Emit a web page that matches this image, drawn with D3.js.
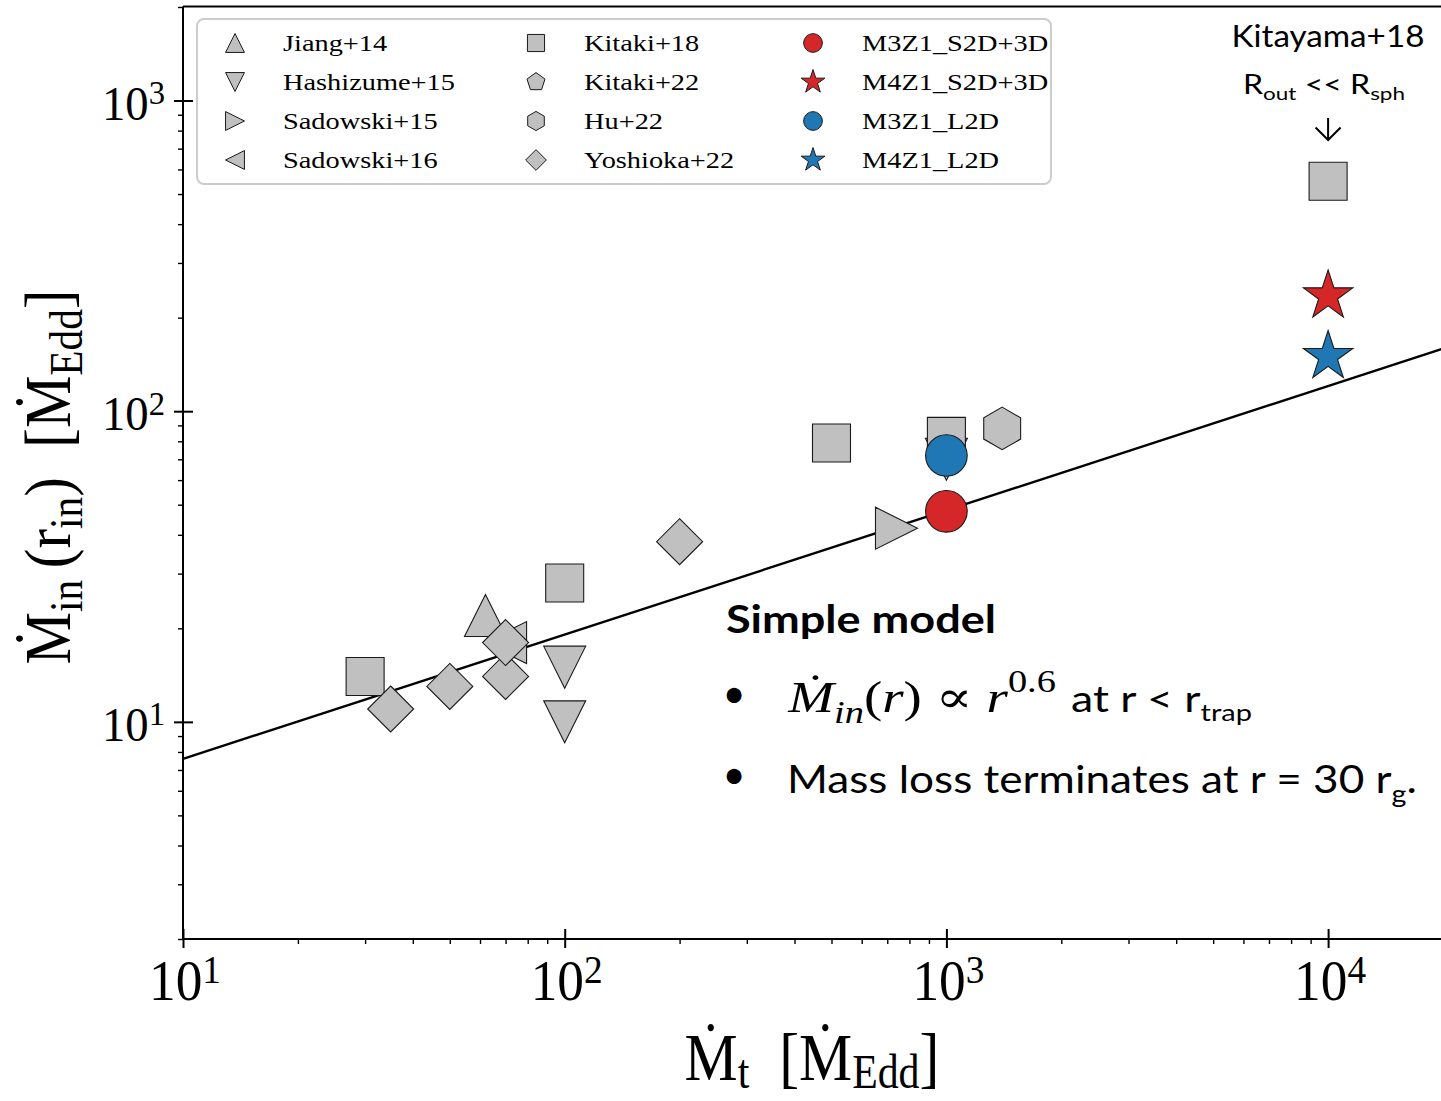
<!DOCTYPE html>
<html><head><meta charset="utf-8">
<script src="https://cdn.jsdelivr.net/npm/d3@7"></script>
<style>html,body{margin:0;padding:0;background:#fff;} svg{display:block;}</style>
</head><body>
<svg id="chart" width="1441" height="1101"></svg>
<script>
// ---------------- data ----------------
const jiangX = [62],              jiangY = [22];
const hashizumeX = [100, 100, 1000], hashizumeY = [15, 10, 70];
const sadowski15X = [740],         sadowski15Y = [42];
const sadowski16X = [70],          sadowski16Y = [18];
const kitaki18X = [30, 100, 500, 1000, 10000], kitaki18Y = [14, 28, 79, 83, 550];
const kitaki22X = [],              kitaki22Y = [];
const hu22X = [1400],              hu22Y = [88];
const yoshiokaX = [35, 50, 70, 70, 200], yoshiokaY = [11, 13, 14, 18, 38];
const m3s2dX = [1000],  m3s2dY = [47.6];
const m4s2dX = [10000], m4s2dY = [235];
const m3l2dX = [1000],  m3l2dY = [72];
const m4l2dX = [10000], m4l2dY = [150];
const modelLineX = [10, 20000], modelLineY = [7.6, 159];

const xDomain = [10, 20000], yDomain = [2, 2000];
const xMajorTicks = [10, 100, 1000, 10000], xTickExps = ["1", "2", "3", "4"];
const yMajorTicks = [10, 100, 1000],        yTickExps = ["1", "2", "3"];
const xMinorTicks = [20,30,40,50,60,70,80,90,200,300,400,500,600,700,800,900,2000,3000,4000,5000,6000,7000,8000,9000];
const yMinorTicks = [2,3,4,5,6,7,8,9,20,30,40,50,60,70,80,90,200,300,400,500,600,700,800,900,2000];

const legendNames = ["Jiang+14","Hashizume+15","Sadowski+15","Sadowski+16",
                     "Kitaki+18","Kitaki+22","Hu+22","Yoshioka+22",
                     "M3Z1_S2D+3D","M4Z1_S2D+3D","M3Z1_L2D","M4Z1_L2D"];

// ---------------- styles ----------------
const GRAY = "#c0c0c0", RED = "#d62728", BLUE = "#1f77b4";
const SERIF = "'Liberation Serif', 'DejaVu Serif', serif";
const SANS = "Lato, 'Open Sans', sans-serif";

const svg = d3.select("#chart");
const x = d3.scaleLog().domain(xDomain).range([183, 1443]);
const y = d3.scaleLog().domain(yDomain).range([939, 7]);

// ---------------- marker shapes ----------------
const shapes = {
  triUp: r => `M0,${-r}L${r},${r}L${-r},${r}Z`,
  triDown: r => `M0,${r}L${r},${-r}L${-r},${-r}Z`,
  triRight: r => `M${r},0L${-r},${-r}L${-r},${r}Z`,
  triLeft: r => `M${-r},0L${r},${-r}L${r},${r}Z`,
  square: r => `M${-r},${-r}H${r}V${r}H${-r}Z`,
  diamond: r => `M0,${-r}L${r},0L0,${r}L${-r},0Z`,
  pentagon: r => poly(5, r),
  hexagon: r => poly(6, r),
  circle: r => `M${r},0A${r},${r} 0 1,1 ${-r},0A${r},${r} 0 1,1 ${r},0Z`,
  star: r => {
    const pts = [];
    for (let i = 0; i < 10; i++) {
      const rr = i % 2 ? r * 0.381966 : r;
      const a = -Math.PI / 2 + i * Math.PI / 5;
      pts.push([rr * Math.cos(a), rr * Math.sin(a)]);
    }
    return "M" + pts.map(p => p.join(",")).join("L") + "Z";
  }
};
function poly(n, r) {
  const pts = [];
  for (let i = 0; i < n; i++) {
    const a = -Math.PI / 2 + i * 2 * Math.PI / n;
    pts.push([r * Math.cos(a), r * Math.sin(a)]);
  }
  return "M" + pts.map(p => p.join(",")).join("L") + "Z";
}

// series definitions: shape, plot size, fill
const series = [
  {xs: jiangX, ys: jiangY, shape: "triUp", r: 21, fill: GRAY},
  {xs: hashizumeX, ys: hashizumeY, shape: "triDown", r: 21, fill: GRAY},
  {xs: sadowski15X, ys: sadowski15Y, shape: "triRight", r: 21, fill: GRAY},
  {xs: sadowski16X, ys: sadowski16Y, shape: "triLeft", r: 21, fill: GRAY},
  {xs: kitaki18X, ys: kitaki18Y, shape: "square", r: 19, fill: GRAY},
  {xs: kitaki22X, ys: kitaki22Y, shape: "pentagon", r: 21, fill: GRAY},
  {xs: hu22X, ys: hu22Y, shape: "hexagon", r: 21.3, fill: GRAY},
  {xs: yoshiokaX, ys: yoshiokaY, shape: "diamond", r: 23, fill: GRAY},
  {xs: m3s2dX, ys: m3s2dY, shape: "circle", r: 20.8, fill: RED},
  {xs: m4s2dX, ys: m4s2dY, shape: "star", r: 26, fill: RED},
  {xs: m3l2dX, ys: m3l2dY, shape: "circle", r: 20.8, fill: BLUE},
  {xs: m4l2dX, ys: m4l2dY, shape: "star", r: 26, fill: BLUE}
];

// ---------------- rich text helper ----------------
function richText(parent, segs, o) {
  const g = parent.append("g");
  const inner = g.append("g");
  const t = inner.append("text")
    .attr("font-family", o.family).attr("font-size", o.size)
    .attr("font-weight", o.weight || "normal")
    .attr("font-style", o.style || "normal")
    .attr("fill", "#000").attr("style", "white-space:pre");
  let cur = 0;
  segs.forEach(s => {
    const sh = (s.shift || 0) * o.size;
    const ts = t.append("tspan").text(s.t)
      .attr("font-size", (s.scale || 1) * o.size)
      .attr("dy", sh - cur);
    if (s.style) ts.attr("font-style", s.style);
    if (s.family) ts.attr("font-family", s.family);
    cur = sh;
  });
  const bb = t.node().getBBox();
  const sx = o.sx ? o.sx : (o.targetW ? o.targetW / bb.width : 1);
  let x0 = -bb.x;
  if (o.anchor === "middle") x0 -= bb.width / 2;
  if (o.anchor === "end") x0 -= bb.width;
  t.attr("x", x0);
  inner.attr("transform", `scale(${sx},1)`);
  g.attr("transform", `translate(${o.x},${o.y})` + (o.rotate ? ` rotate(${o.rotate})` : ""));
  return {sx, w: bb.width, g};
}

// ---------------- axes ----------------
const x0px = x.range()[0], xEnd = 1441, yBot = y.range()[0], yTop = 6.5;

const gxMinor = svg.append("g").attr("transform", `translate(0,${yBot})`)
  .call(d3.axisBottom(x).tickValues(xMinorTicks).tickSize(5).tickFormat(""));
const gxMajor = svg.append("g").attr("transform", `translate(0,${yBot})`)
  .call(d3.axisBottom(x).tickValues(xMajorTicks).tickSize(9).tickFormat(""));
const gyMinor = svg.append("g").attr("transform", `translate(${x0px},0)`)
  .call(d3.axisLeft(y).tickValues(yMinorTicks).tickSize(5).tickFormat(""));
const gyMajor = svg.append("g").attr("transform", `translate(${x0px},0)`)
  .call(d3.axisLeft(y).tickValues(yMajorTicks).tickSize(9).tickFormat(""));
[gxMinor, gxMajor, gyMinor, gyMajor].forEach(g => g.select(".domain").remove());
gxMinor.selectAll(".tick line").attr("stroke", "#000").attr("stroke-width", 1.4);
gyMinor.selectAll(".tick line").attr("stroke", "#000").attr("stroke-width", 1.4);
gxMajor.selectAll(".tick line").attr("stroke", "#000").attr("stroke-width", 2).attr("y1", -10).attr("y2", 9);
gyMajor.selectAll(".tick line").attr("stroke", "#000").attr("stroke-width", 2).attr("x1", 10).attr("x2", -9);

// spines
svg.append("line").attr("x1", x0px).attr("x2", x0px).attr("y1", yTop).attr("y2", yBot)
  .attr("stroke", "#000").attr("stroke-width", 2);
svg.append("line").attr("x1", x0px).attr("x2", xEnd).attr("y1", yBot).attr("y2", yBot)
  .attr("stroke", "#000").attr("stroke-width", 2);
svg.append("line").attr("x1", x0px).attr("x2", xEnd).attr("y1", yTop).attr("y2", yTop)
  .attr("stroke", "#000").attr("stroke-width", 2);

// tick labels
xMajorTicks.forEach((v, i) => {
  richText(svg, [{t: "10"}, {t: xTickExps[i], scale: 0.7, shift: -0.3}],
    {family: SERIF, size: 58, x: x(v) + 2, y: 1000, anchor: "middle", targetW: 72});
});
yMajorTicks.forEach((v, i) => {
  richText(svg, [{t: "10"}, {t: yTickExps[i], scale: 0.7, shift: -0.32}],
    {family: SERIF, size: 49, x: 165, y: y(v) + 19, anchor: "end", targetW: 63});
});

// axis labels
richText(svg, [{t: "Ṁ"}, {t: "t", scale: 0.7, shift: 0.12}, {t: "  [Ṁ"}, {t: "Edd", scale: 0.7, shift: 0.12}, {t: "]"}],
  {family: SERIF, size: 68, x: 812, y: 1080, anchor: "middle", targetW: 255});
richText(svg, [{t: "Ṁ"}, {t: "in", scale: 0.7, shift: 0.18}, {t: "\u2009(r"}, {t: "in", scale: 0.7, shift: 0.18}, {t: ")  [Ṁ"}, {t: "Edd", scale: 0.7, shift: 0.18}, {t: "]"}],
  {family: SERIF, size: 66, x: 70, y: 477, anchor: "middle", targetW: 375, rotate: -90});

// ---------------- model line ----------------
const line = d3.line().x((d, i) => x(d)).y((d, i) => y(modelLineY[i]));
svg.append("path").attr("d", line(modelLineX)).attr("fill", "none")
  .attr("stroke", "#000").attr("stroke-width", 2.4);

// ---------------- markers ----------------
const gm = svg.append("g");
series.forEach(s => {
  gm.selectAll(null).data(s.xs.map((v, i) => [v, s.ys[i]])).join("path")
    .attr("transform", d => `translate(${x(d[0])},${y(d[1])})`)
    .attr("d", shapes[s.shape](s.r))
    .attr("fill", s.fill).attr("stroke", "#1a1a1a").attr("stroke-width", 1.1)
    .attr("stroke-linejoin", "miter");
});

// ---------------- legend ----------------
const lg = svg.append("g");
lg.append("rect").attr("x", 197).attr("y", 19).attr("width", 854).attr("height", 165)
  .attr("rx", 7).attr("fill", "#fff").attr("fill-opacity", 0.85)
  .attr("stroke", "#cccccc").attr("stroke-width", 2);
const legMarkX = [235, 536, 813], legTextX = [283, 584, 862], legRowY = [43, 82, 121, 160];
const legScale = 0.45;
// measure one entry to get a common horizontal scale, then discard the probe
const probe = richText(lg, [{t: legendNames[1]}], {family: SERIF, size: 23, x: 300, y: 100, targetW: 172});
probe.g.remove();
series.forEach((s, i) => {
  const col = Math.floor(i / 4), row = i % 4;
  const r = s.shape === "star" ? s.r * 0.48 : s.r * legScale;
  lg.append("path").attr("transform", `translate(${legMarkX[col]},${legRowY[row]})`)
    .attr("d", shapes[s.shape](r)).attr("fill", s.fill)
    .attr("stroke", "#1a1a1a").attr("stroke-width", 1);
  richText(lg, [{t: legendNames[i]}], {family: SERIF, size: 23, x: legTextX[col], y: legRowY[row] + 8, sx: probe.sx});
});

// ---------------- annotations ----------------
richText(svg, [{t: "Kitayama+18"}], {family: SANS, size: 30, x: 1328, y: 47, anchor: "middle", targetW: 193});
richText(svg, [{t: "R"}, {t: "out", scale: 0.7, shift: 0.25}, {t: " << R"}, {t: "sph", scale: 0.7, shift: 0.25}],
  {family: SANS, size: 26, x: 1324, y: 93.5, anchor: "middle", targetW: 162});
svg.append("path").attr("d", `M${x(10000)},118V140M${x(10000) - 12.5},127.5L${x(10000)},140L${x(10000) + 12.5},127.5`)
  .attr("fill", "none").attr("stroke", "#000").attr("stroke-width", 2);

richText(svg, [{t: "Simple model"}], {family: SANS, size: 39, weight: "bold", x: 726, y: 633, targetW: 270});
richText(svg, [{t: "•"}], {family: SANS, size: 40, x: 734, y: 708, anchor: "middle"});
richText(svg, [{t: "•"}], {family: SANS, size: 40, x: 734, y: 789, anchor: "middle"});
richText(svg, [{t: "Ṁ", style: "italic"}, {t: "in", scale: 0.7, shift: 0.25, style: "italic"}, {t: "("}, {t: "r", style: "italic"}, {t: ") ∝ "}, {t: "r", style: "italic"}, {t: "0.6", scale: 0.7, shift: -0.45}],
  {family: SERIF, size: 44, x: 787, y: 712, targetW: 269});
richText(svg, [{t: "at r < r"}, {t: "trap", scale: 0.65, shift: 0.25}],
  {family: SANS, size: 37, x: 1071, y: 712, targetW: 181});
richText(svg, [{t: "Mass loss terminates at r = 30 r"}, {t: "g", scale: 0.65, shift: 0.25}, {t: ".", shift: 0}],
  {family: SANS, size: 39, x: 787, y: 793, targetW: 630});
</script>
</body></html>
